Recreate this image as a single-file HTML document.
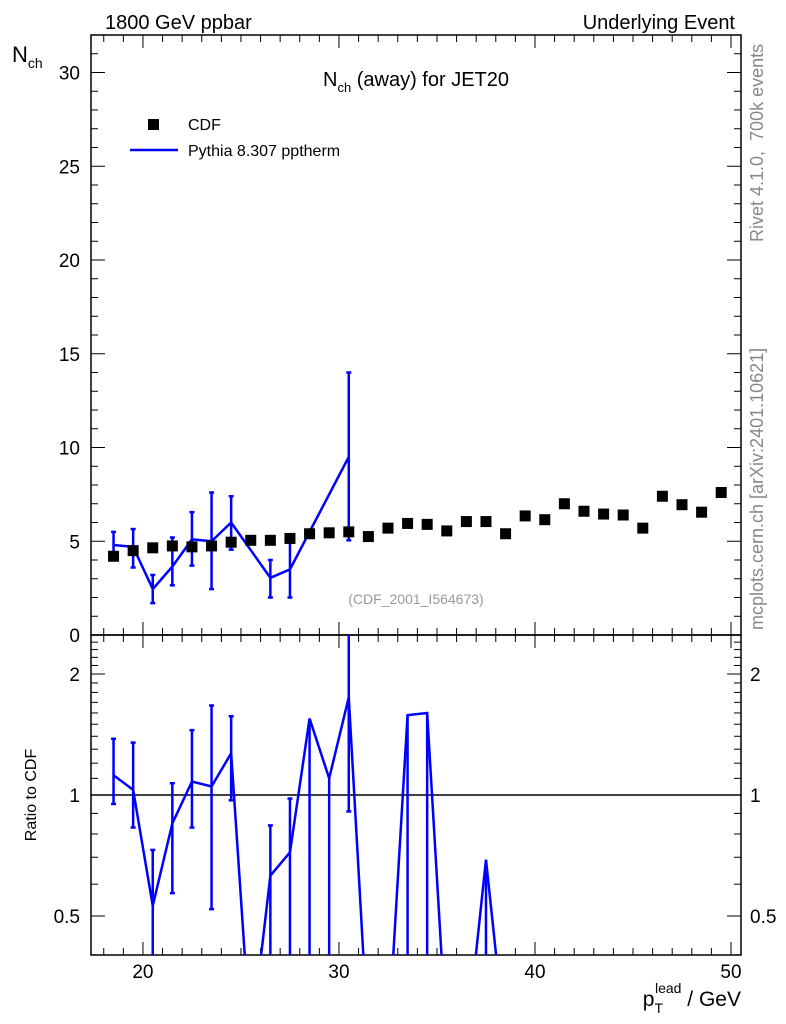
<!DOCTYPE html>
<html><head><meta charset="utf-8"><style>
html,body{margin:0;padding:0;background:#fff;overflow:hidden;width:786px;height:1024px}
svg{display:block;font-family:"Liberation Sans",Arial,sans-serif}
</style></head><body>
<svg id="chart" width="786" height="1024" xmlns="http://www.w3.org/2000/svg">
<defs>
<clipPath id="cm"><rect x="91" y="35" width="650" height="600"/></clipPath>
<clipPath id="cr"><rect x="91" y="635" width="650" height="320"/></clipPath>
</defs>
<g id="main"></g>
<g id="ratio"></g>
<text x="105" y="29" font-size="20">1800 GeV ppbar</text>
<text x="735" y="29" font-size="20" text-anchor="end">Underlying Event</text>
<text x="416" y="86" font-size="20" text-anchor="middle">N<tspan font-size="13" dy="6">ch</tspan><tspan dy="-6"> (away) for JET20</tspan></text>
<text x="12" y="62" font-size="22">N<tspan font-size="14" dy="6">ch</tspan></text>
<text transform="translate(36,795) rotate(-90)" font-size="16" text-anchor="middle">Ratio to CDF</text>
<text x="741" y="1006" font-size="21" text-anchor="end">p<tspan font-size="14" dy="7">T</tspan><tspan font-size="14" dx="-8" dy="-20">lead</tspan><tspan dy="13"> / GeV</tspan></text>
<text transform="translate(763,242) rotate(-90)" font-size="18" fill="#888">Rivet 4.1.0,&#160;&#160;700k events</text>
<text transform="translate(763,630) rotate(-90)" font-size="18" fill="#888">mcplots.cern.ch [arXiv:2401.10621]</text>
<text x="416" y="604" font-size="14" fill="#999" text-anchor="middle">(CDF_2001_I564673)</text>
<rect x="148" y="119" width="11" height="11" fill="#000"/>
<text x="188" y="130" font-size="16">CDF</text>
<line x1="130" y1="150" x2="178" y2="150" stroke="#0000ff" stroke-width="2.5"/>
<text x="188" y="156" font-size="16">Pythia 8.307 pptherm</text>
</svg>
<script>
const xCenters=[18.5,19.5,20.5,21.5,22.5,23.5,24.5,25.5,26.5,27.5,28.5,29.5,30.5,31.5,32.5,33.5,34.5,35.5,36.5,37.5,38.5,39.5,40.5,41.5,42.5,43.5,44.5,45.5,46.5,47.5,48.5,49.5];
const cdfValues=[4.2,4.5,4.65,4.75,4.7,4.75,4.95,5.05,5.05,5.15,5.4,5.45,5.5,5.25,5.7,5.95,5.9,5.55,6.05,6.05,5.4,6.35,6.15,7.0,6.6,6.45,6.4,5.7,7.4,6.95,6.55,7.6];
const pyX=[18.5,19.5,20.5,21.5,22.5,23.5,24.5,26.5,27.5,30.5];
const pyValues=[4.8,4.7,2.45,3.65,5.1,5.0,6.0,3.05,3.5,9.5];
const pyErrHi=[5.5,5.65,3.2,5.2,6.55,7.6,7.4,4.0,5.0,14.0];
const pyErrLo=[4.1,3.6,1.7,2.65,3.7,2.45,4.55,2.0,2.0,5.05];
const ratioX=[18.5,19.5,20.5,21.5,22.5,23.5,24.5,25.5,26.5,27.5,28.5,29.5,30.5,31.5,32.5,33.5,34.5,35.5,36.5,37.5,38.5];
const ratioValues=[1.12,1.03,0.53,0.85,1.08,1.05,1.27,0.24,0.63,0.72,1.55,1.1,1.75,0.24,0.24,1.58,1.6,0.24,0.24,0.69,0.24];
const ratioErrHi=[1.38,1.35,0.73,1.07,1.45,1.67,1.57,null,0.84,0.98,1.55,1.1,3,null,null,1.58,1.6,null,null,0.69,null];
const ratioErrLo=[0.95,0.83,0.01,0.57,0.83,0.52,0.97,null,0.01,0.01,0.01,0.01,0.91,null,null,0.01,0.01,null,null,0.01,null];
const mainTicks=[0,5,10,15,20,25,30];
const ratioTicks=[0.5,1,2];
const xTicks=[20,30,40,50];

const NS='http://www.w3.org/2000/svg';
const X0=91,X1=741,XMIN=17.35,XMAX=50.51;
const sx=v=>X0+(v-XMIN)/(XMAX-XMIN)*(X1-X0);
const sy=v=>635-(v-0)/32*600;
const sr=v=>795-Math.log2(v)*121;
function mk(tag,attrs,parent){const e=document.createElementNS(NS,tag);for(const k in attrs)e.setAttribute(k,attrs[k]);parent.appendChild(e);return e;}
const main=document.getElementById('main'),ratio=document.getElementById('ratio');

function frame(g,y0,y1,yTickFn,majors,minors,labelX){
  const r=mk('rect',{x:X0,y:y0,width:X1-X0,height:y1-y0,fill:'none',stroke:'#000','stroke-width':1.5},g);
  
  
  for(let v=18;v<=50;v++){const x=sx(v),maj=v%10==0;const L=maj?13:7;
    mk('line',{x1:x,y1:y1,x2:x,y2:y1-L,stroke:'#000'},g);mk('line',{x1:x,y1:y0,x2:x,y2:y0+L,stroke:'#000'},g);}
  minors.forEach(v=>{const y=yTickFn(v);mk('line',{x1:X0,y1:y,x2:X0+7,y2:y,stroke:'#000'},g);mk('line',{x1:X1,y1:y,x2:X1-7,y2:y,stroke:'#000'},g);});
  majors.forEach(v=>{const y=yTickFn(v);mk('line',{x1:X0,y1:y,x2:X0+14,y2:y,stroke:'#000'},g);mk('line',{x1:X1,y1:y,x2:X1-14,y2:y,stroke:'#000'},g);
    const t=mk('text',{x:80,y:y+7,'font-size':19,'text-anchor':'end'},g);t.textContent=v;
    
    
    if(labelX){const t2=mk('text',{x:750,y:y+7,'font-size':19},g);t2.textContent=v;
      
      }
  });
}
const mm=[];for(let v=1;v<32;v++)if(v%5)mm.push(v);
frame(main,35,635,sy,mainTicks,mm,false);
const rm=[];for(let v=0.4;v<2.51;v+=0.1){const r=Math.round(v*10)/10;if(r!=0.5&&r!=1&&r!=2)rm.push(r);}
frame(ratio,635,955,sr,ratioTicks,rm,true);
xTicks.forEach(v=>{const t=mk('text',{x:sx(v),y:978,'font-size':19,'text-anchor':'middle'},ratio);t.textContent=v;
  
  });

const gm=mk('g',{'clip-path':'url(#cm)'},main);
const pl=mk('polyline',{points:pyX.map((x,i)=>sx(x)+','+sy(pyValues[i])).join(' '),fill:'none',stroke:'#0000ff','stroke-width':2.5},gm);


pyX.forEach((x,i)=>{const X=sx(x);
  const e=mk('line',{x1:X,y1:sy(pyErrHi[i]),x2:X,y2:sy(pyErrLo[i]),stroke:'#0000ff','stroke-width':2.5},gm);
  
  
  [pyErrHi[i],pyErrLo[i]].forEach(v=>mk('line',{x1:X-2.5,y1:sy(v),x2:X+2.5,y2:sy(v),stroke:'#0000ff','stroke-width':2.5},gm));
});
xCenters.forEach((x,i)=>{const m=mk('rect',{x:sx(x)-5.5,y:sy(cdfValues[i])-5.5,width:11,height:11,fill:'#000'},gm);
  
  });

const gr=mk('g',{'clip-path':'url(#cr)'},ratio);
const ref=mk('line',{x1:X0,y1:sr(1),x2:X1,y2:sr(1),stroke:'#000','stroke-width':1.5},gr);


const rl=mk('polyline',{points:ratioX.map((x,i)=>sx(x)+','+sr(ratioValues[i])).join(' '),fill:'none',stroke:'#0000ff','stroke-width':2.5},gr);


ratioX.forEach((x,i)=>{if(ratioErrHi[i]==null)return;const X=sx(x);
  const e=mk('line',{x1:X,y1:sr(ratioErrHi[i]),x2:X,y2:sr(ratioErrLo[i]),stroke:'#0000ff','stroke-width':2.5},gr);
  
  
  if(ratioErrHi[i]>ratioValues[i]+0.01)mk('line',{x1:X-2.5,y1:sr(ratioErrHi[i]),x2:X+2.5,y2:sr(ratioErrHi[i]),stroke:'#0000ff','stroke-width':2.5},gr);
  if(ratioErrLo[i]>0.4)mk('line',{x1:X-2.5,y1:sr(ratioErrLo[i]),x2:X+2.5,y2:sr(ratioErrLo[i]),stroke:'#0000ff','stroke-width':2.5},gr);
});
</script>
</body></html>
